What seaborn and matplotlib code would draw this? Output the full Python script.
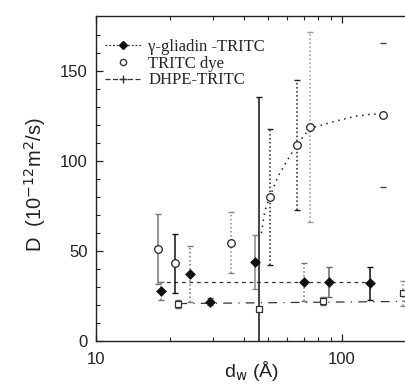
import numpy as np
import pandas as pd
import matplotlib
matplotlib.use("Agg")
import matplotlib.pyplot as plt
from matplotlib.lines import Line2D
import seaborn as sns

# data
gli_d = [18.3, 24.0, 29.1, 44.2, 69.7, 88.2, 129.4]
gli_D = [27.9, 37.4, 21.9, 44.0, 32.9, 32.9, 32.0]
gli_err = [5, 15.7, 2, 15, 10.5, 8.5, 9]

dye_d = [17.8, 20.9, 35.4, 50.8, 65.5, 74.1, 146]
dye_D = [51.0, 43.2, 54.6, 80.0, 109.0, 119.0, 125.6]
dye_err = [19.5, 16.5, 17, 38, 36, 53, 40]

dhpe_d = [21.6, 46.0, 83.6, 177]
dhpe_D = [20.6, 17.6, 22.2, 26.5]
dhpe_err_lo = [2, 18, 2, 7]
dhpe_err_hi = [2, 118, 2, 7]

# fitted curves
gli_fit_d = [18, 125]
gli_fit_D = [32.8, 32.8]
dhpe_fit_d = [21.6, 180]
dhpe_fit_D = [20.8, 22.0]
dye_fit_d = [47.0, 48.5, 50.8, 55.1, 60.5, 63.4, 68, 74.1, 81.5, 89.5, 100, 113, 128.5, 146]
dye_fit_D = [60, 72, 80, 92, 101.5, 106, 112, 118.5, 119.8, 121.5, 123.2, 125, 126, 126.5]

# per-point error bar looks (scan has mixed styles)
gli_style = [("#777", ":"), ("#777", ":"), ("#555", "-"), ("#888", "-"), ("#777", ":"), ("#666", "-"), ("#111", "-")]
dye_style = [("#777", "-"), ("#111", "-"), ("#888", ":"), ("#222", ":"), ("#222", ":"), ("#999", ":"), ("#444", "none")]
dhpe_style = [("#666", "-"), ("#111", "-"), ("#666", "-"), ("#888", ":")]

sns.set_style("ticks")
plt.rcParams["font.family"] = ["Liberation Sans", "DejaVu Sans"]

fig = plt.figure(figsize=(4.05, 3.91), dpi=100)
ax = fig.add_axes([0.237, 0.128, 0.77, 0.832])

fits = pd.concat([
    pd.DataFrame({"d": gli_fit_d, "D": gli_fit_D, "s": "gli"}),
    pd.DataFrame({"d": dhpe_fit_d, "D": dhpe_fit_D, "s": "dhpe"}),
    pd.DataFrame({"d": dye_fit_d, "D": dye_fit_D, "s": "dye"}),
])
sns.lineplot(data=fits[fits.s == "gli"], x="d", y="D", ax=ax, color="#333",
             lw=0.9, linestyle=(0, (3, 3)), legend=False)
sns.lineplot(data=fits[fits.s == "dhpe"], x="d", y="D", ax=ax, color="#333",
             lw=0.9, linestyle=(0, (7, 5, 1, 5)), legend=False)
sns.lineplot(data=fits[fits.s == "dye"], x="d", y="D", ax=ax, color="#222",
             lw=1.1, linestyle=(0, (1, 3)), legend=False)

def bars(xs, ys, lo, hi, styles):
    for x, y, l, h, (c, ls) in zip(xs, ys, lo, hi, styles):
        if ls == "none":
            eb = ax.errorbar(x, y, yerr=[[l], [h]], fmt="none", ecolor=c,
                             elinewidth=0, capsize=2, capthick=1)
        else:
            eb = ax.errorbar(x, y, yerr=[[l], [h]], fmt="none", ecolor=c,
                             elinewidth=1.1, capsize=2.5, capthick=1)
            eb[2][0].set_linestyle(ls)

bars(gli_d, gli_D, gli_err, gli_err, gli_style)
bars(dye_d, dye_D, dye_err, dye_err, dye_style)
bars(dhpe_d, dhpe_D, dhpe_err_lo, dhpe_err_hi, dhpe_style)

sns.scatterplot(x=dye_d, y=dye_D, ax=ax, marker="o", s=30, facecolor="white",
                edgecolor="#222", linewidth=0.9, zorder=5)
sns.scatterplot(x=dhpe_d, y=dhpe_D, ax=ax, marker="s", s=20, facecolor="white",
                edgecolor="#333", linewidth=0.9, zorder=5)
sns.scatterplot(x=gli_d, y=gli_D, ax=ax, marker="D", s=26, color="#111",
                edgecolor="#111", zorder=6)

ax.set_xscale("log")
ax.set_xlim(10, 185)
ax.set_ylim(0, 181)
ax.set_yticks([0, 50, 100, 150])
ax.set_yticks(np.arange(10, 180, 10), minor=True)
ax.set_xticks([10, 100])
ax.set_xticklabels(["10", "100"])
ax.tick_params(which="both", direction="in", top=True, right=False,
               labelsize=12, colors="#222")
ax.tick_params(which="major", length=5, width=0.9)
ax.tick_params(which="minor", length=3, width=0.8)
ax.tick_params(axis="x", which="major", pad=8)
ax.tick_params(axis="y", which="major", pad=6)
for side in ["left", "bottom", "top"]:
    ax.spines[side].set_color("#222")
    ax.spines[side].set_linewidth(1.0)
ax.spines["right"].set_visible(False)

ax.set_xlabel(r"d$_{\rm w}$ (Å)", fontsize=14, color="#222")
ax.xaxis.set_label_coords(0.5, -0.055)
ax.set_ylabel(r"D  (10$^{-12}$m$^2$/s)", fontsize=14.5, color="#222")
ax.yaxis.set_label_coords(-0.155, 0.48)

handles = [
    Line2D([], [], color="#333", lw=0.9, linestyle=(0, (1.5, 1.5)), marker="D",
           markersize=4.5, markerfacecolor="#111", markeredgecolor="#111"),
    Line2D([], [], color="none", marker="o", markersize=4.5,
           markerfacecolor="white", markeredgecolor="#333"),
    Line2D([], [], color="#333", lw=0.9, linestyle=(0, (4, 2)), marker="+",
           markersize=6, markeredgecolor="#333"),
]
labels = ["γ-gliadin -TRITC", "TRITC dye", "DHPE-TRITC"]
ax.legend(handles, labels, loc="upper left", frameon=False,
          prop={"family": ["Liberation Serif", "DejaVu Serif"], "size": 12},
          handlelength=2.2, handletextpad=0.4, labelspacing=0.05,
          borderaxespad=0.5, bbox_to_anchor=(-0.02, 0.975))

fig.savefig("out.png", dpi=100)
plt.close(fig)
